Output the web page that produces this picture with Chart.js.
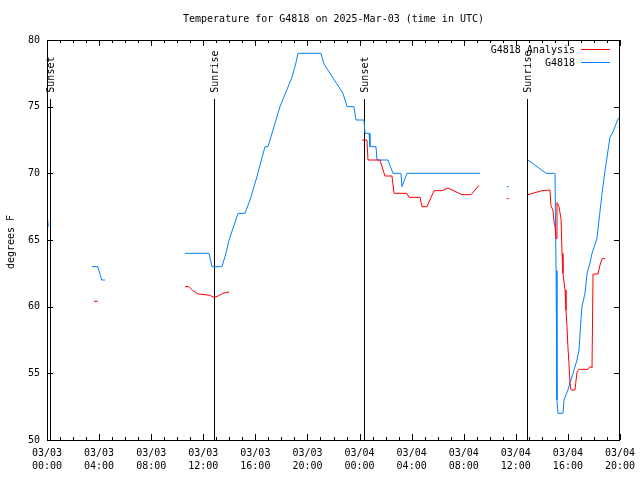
<!DOCTYPE html>
<html>
<head>
<meta charset="utf-8">
<script src="https://cdn.jsdelivr.net/npm/chart.js@4/dist/chart.umd.min.js"></script>
<style>
html,body{margin:0;padding:0;background:#fff;}
#wrap{width:640px;height:480px;}
</style>
</head>
<body>
<div id="wrap"><canvas id="c" width="640" height="480"></canvas></div>
<script>
// Hours since 03/03 00:00 UTC; null marks a gap
const analysisHours = [3.6,3.9,null,10.6,10.9,11.2,11.6,12.13,12.5,12.82,13.13,13.5,13.98,null,
  24.19,24.57,24.65,25.57,25.95,26.49,26.65,27.64,27.8,28.64,28.8,29.18,29.72,30.33,30.79,31.87,32.56,33.17,null,
  35.3,35.45,null,
  36.93,38.01,38.62,38.7,38.85,38.93,39.01,39.09,39.16,39.31,39.47,39.55,39.62,39.78,39.85,39.93,40.0,40.08,40.16,40.24,40.54,40.6,40.7,40.85,41.54,41.7,41.85,41.93,42.31,42.46,42.62,42.85];
const analysisTemps = [60.4,60.4,null,61.5,61.5,61.2,60.95,60.9,60.85,60.7,60.8,61.0,61.1,null,
  72.5,72.5,71,71,69.8,69.8,68.5,68.5,68.2,68.2,67.5,67.5,68.7,68.7,68.9,68.4,68.4,69.1,null,
  68.1,68.1,null,
  68.4,68.7,68.75,67.55,67.25,66.4,66,65.1,67.8,67.5,66.6,64,62.5,61.25,59.75,58.5,57,55.75,54.25,53.75,53.75,54.25,55.1,55.3,55.3,55.5,55.4,62.45,62.45,63.1,63.6,63.6];

const stationHours = [0,0.1,null,3.45,3.9,4.2,4.45,null,
  10.6,12.44,12.67,13.44,13.74,13.98,14.67,15.2,15.59,16.05,16.74,16.97,17.89,18.81,19.12,19.27,21.04,21.27,22.73,23.04,23.57,23.73,24.34,24.42,24.73,24.8,25.26,25.34,26.18,26.57,27.18,27.26,27.64,33.25,null,
  35.3,35.45,null,
  36.93,38.32,39.01,39.09,39.16,39.24,39.62,39.7,40.0,40.39,40.7,40.85,41.0,41.08,41.31,41.47,41.7,41.85,42.23,42.62,42.85,43.23,43.46,43.85,44];
const stationTemps = [67,66,null,63,63,62,62,null,
  64,64,63,63,64,65,67,67,68,69.5,72,72,75,77.2,78.3,79,79,78.2,76,75,75,74,74,73,73,72,72,71,71,70,70,69,70,70,null,
  69,69,null,
  71,70,70,62.7,53,52,52,53,53.75,55,56,56.75,59,60,61,62.5,63.3,64,65.1,68.5,70.2,72.7,73.1,74.1,74.2];

const sunHours = [0.23, 12.82, 24.34, 36.86];
const sunLabels = ['Sunset','Sunrise','Sunset','Sunrise'];
const sunLineTop = 75.6;

const xTickDates = ['03/03','03/03','03/03','03/03','03/03','03/03','03/04','03/04','03/04','03/04','03/04','03/04'];
const xTickTimes = ['00:00','04:00','08:00','12:00','16:00','20:00','00:00','04:00','08:00','12:00','16:00','20:00'];

const titleText = 'Temperature for G4818 on 2025-Mar-03 (time in UTC)';
const yTitle = 'degrees F';
const seriesNames = ['G4818 Analysis','G4818'];
const seriesColors = ['#ff0000','#0080ff'];

const FONT = 'DejaVu Sans Mono';

function pts(hs, ts){ return hs.map((h,i)=> h===null ? {x:NaN,y:null} : {x:h, y:ts[i]}); }

const datasets = [
  {label:seriesNames[0], data:pts(analysisHours, analysisTemps), borderColor:seriesColors[0], borderWidth:1, pointRadius:0, spanGaps:false, fill:false},
  {label:seriesNames[1], data:pts(stationHours, stationTemps), borderColor:seriesColors[1], borderWidth:1, pointRadius:0, spanGaps:false, fill:false}
];

const decor = {
  id:'decor',
  beforeDatasetsDraw(chart){
    const ctx = chart.ctx, xs = chart.scales.x, ys = chart.scales.y;
    ctx.save();
    ctx.strokeStyle = '#000'; ctx.lineWidth = 1;
    ctx.beginPath();
    sunHours.forEach((h)=>{
      const x = Math.round(xs.getPixelForValue(h))+0.5;
      ctx.moveTo(x, Math.round(ys.getPixelForValue(sunLineTop)));
      ctx.lineTo(x, ys.getPixelForValue(50));
    });
    ctx.stroke();
    ctx.restore();
  },
  afterDraw(chart){
    const ctx = chart.ctx, a = chart.chartArea, xs = chart.scales.x, ys = chart.scales.y;
    ctx.save();
    ctx.strokeStyle = '#000'; ctx.lineWidth = 1;
    ctx.strokeRect(Math.round(a.left)+0.5, Math.round(a.top)+0.5, Math.round(a.right-a.left)-1, Math.round(a.bottom-a.top));
    ctx.beginPath();
    for(let h=0; h<=44; h++){
      const x = Math.round(xs.getPixelForValue(h))+0.5;
      const len = (h%4===0)?6:3;
      ctx.moveTo(x, a.bottom); ctx.lineTo(x, a.bottom-len);
      ctx.moveTo(x, a.top); ctx.lineTo(x, a.top+len);
    }
    for(let v=50; v<=80; v+=5){
      const y = Math.round(ys.getPixelForValue(v))+0.5;
      ctx.moveTo(a.left, y); ctx.lineTo(a.left+6, y);
      ctx.moveTo(a.right, y); ctx.lineTo(a.right-6, y);
    }
    ctx.stroke();
    ctx.fillStyle = '#000';
    ctx.font = '10px "'+FONT+'"';
    ctx.textAlign = 'center'; ctx.textBaseline = 'middle';
    ctx.fillText(titleText, (a.left+a.right)/2, 19);
    ctx.save(); ctx.translate(11, 242); ctx.rotate(-Math.PI/2); ctx.fillText(yTitle, 0, 0); ctx.restore();
    sunHours.forEach((h,i)=>{
      const x = Math.round(xs.getPixelForValue(h));
      const yb = ys.getPixelForValue(sunLineTop) - 6;
      ctx.save(); ctx.translate(x+1.5, yb); ctx.rotate(-Math.PI/2);
      ctx.textAlign='left'; ctx.textBaseline='middle'; ctx.fillText(sunLabels[i], 0, 0); ctx.restore();
    });
    ctx.textAlign='right';
    const ly = [49, 62];
    seriesNames.forEach((n,i)=>{
      ctx.fillStyle='#000'; ctx.fillText(n, 575, ly[i]+1);
      ctx.strokeStyle=seriesColors[i]; ctx.beginPath(); ctx.moveTo(581, ly[i]+0.5); ctx.lineTo(610, ly[i]+0.5); ctx.stroke();
    });
    ctx.restore();
  }
};

new Chart(document.getElementById('c'), {
  type:'line',
  data:{datasets},
  options:{
    responsive:false, animation:false, devicePixelRatio:1,
    layout:{padding:{left:0,right:20,top:40,bottom:0}},
    plugins:{legend:{display:false}, title:{display:false}, tooltip:{enabled:false}},
    elements:{line:{tension:0}},
    scales:{
      x:{type:'linear', min:0, max:44,
        grid:{display:false, drawTicks:false}, border:{display:false},
        afterFit(s){ s.height = 40; s.paddingLeft = 0; s.paddingRight = 0; },
        afterBuildTicks(s){ s.ticks = xTickDates.map((d,i)=>({value:i*4})); },
        ticks:{autoSkip:false, maxRotation:0, padding:7, color:'#000', font:{family:FONT, size:10, lineHeight:1.3},
          callback(v){ const i = Math.round(v/4); return [xTickDates[i], xTickTimes[i]]; }}
      },
      y:{type:'linear', min:50, max:80,
        grid:{display:false, drawTicks:false}, border:{display:false},
        afterFit(s){ s.width = 47; s.paddingTop = 0; s.paddingBottom = 0; },
        ticks:{stepSize:5, padding:7, color:'#000', font:{family:FONT, size:10}}
      }
    }
  },
  plugins:[decor]
});
</script>
</body>
</html>
